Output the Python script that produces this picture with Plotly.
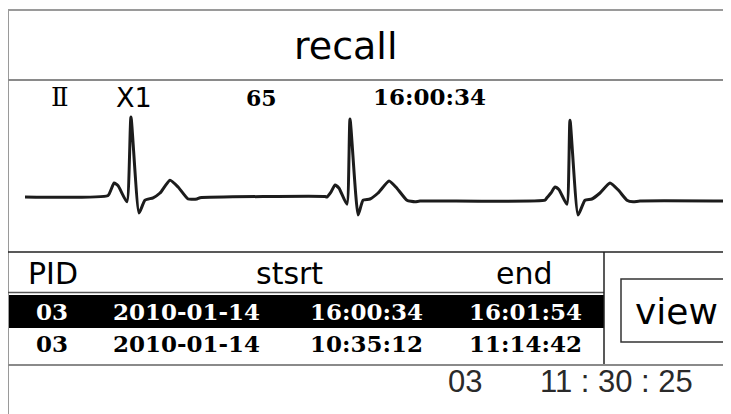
import plotly.graph_objects as go

# ---------------- data ----------------
title_text = "recall"
lead_label = "Ⅱ"
gain_label = "X1"
heart_rate = "65"
strip_time = "16:00:34"

# ECG samples: time (ms) and amplitude (mV)
ecg_t = [0, 349, 361, 374, 391, 428, 445, 479, 504, 538, 567, 609, 643, 685, 722, 735, 1260,
         1268, 1285, 1302, 1319, 1352, 1365, 1399, 1420, 1449, 1483, 1529, 1562, 1604, 1638, 1659, 2184,
         2192, 2209, 2226, 2243, 2276, 2289, 2323, 2352, 2381, 2415, 2457, 2491, 2528, 2554, 2583, 2936]
ecg_mv = [0.0, 0.02, 0.09, 0.175, 0.14, -0.06, 1.0, -0.2, -0.04, -0.01, 0.05, 0.21, 0.125, -0.025, -0.025, -0.01, 0.006,
          0.0, 0.06, 0.15, 0.11, -0.09, 0.975, -0.225, -0.04, -0.025, 0.05, 0.2, 0.11, -0.04, -0.06, -0.05, -0.04,
          -0.01, 0.05, 0.125, 0.09, -0.09, 0.96, -0.225, -0.04, -0.025, 0.05, 0.175, 0.09, -0.04, -0.06, -0.05, -0.05]

header_labels = ["PID", "stsrt", "end"]
pids = ["03", "03"]
dates = ["2010-01-14", "2010-01-14"]
starts = ["16:00:34", "10:35:12"]
ends = ["16:01:54", "11:14:42"]
button_label = "view"
footer_pid = "03"
footer_clock = "11\u00a0:\u00a030\u00a0:\u00a025"

# ---------------- figure ----------------
W, H = 731, 414
OFF = 8  # page body margin
fig = go.Figure()

fig.add_trace(go.Scatter(x=ecg_t, y=ecg_mv, mode="lines", xaxis="x2", yaxis="y2",
                         line=dict(color="#1c1c1c", width=3, shape="spline", smoothing=0.5),
                         hoverinfo="skip", showlegend=False))
fig.add_trace(go.Scatter(x=[100], y=[100], mode="markers", marker=dict(opacity=0),
                         hoverinfo="skip", showlegend=False))

ms_per_px = 4.2
px_per_mv = 80
x0_px, base_px = 25, 197

shapes = []
def line(x0, y0, x1, y1, color, w):
    shapes.append(dict(type="line", xref="x", yref="y", x0=x0, y0=y0, x1=x1, y1=y1,
                       line=dict(color=color, width=w)))

# black selected row
shapes.append(dict(type="rect", xref="x", yref="y", x0=9, y0=295, x1=604, y1=328,
                   fillcolor="black", line=dict(width=0), layer="below"))
# frame
line(8, 10, 731, 10, "#9a9a9a", 2)
line(8, 9, 8, 414, "#9a9a9a", 2)
line(8, 80, 731, 80, "#8a8a8a", 2)
line(8, 252, 731, 252, "#222222", 1.5)
line(8, 292.5, 604, 292.5, "#555555", 1.5)
line(604, 252, 604, 365, "#222222", 1.5)
line(8, 365, 731, 365, "#8a8a8a", 2)
# view button
shapes.append(dict(type="rect", xref="x", yref="y", x0=621, y0=279, x1=730, y1=342,
                   fillcolor="rgba(0,0,0,0)", line=dict(color="#333333", width=1.5)))

ann = []
def txt(x, y, s, size, family, color="black", bold=False):
    ann.append(dict(xref="x", yref="y", x=x, y=y, text=(f"<b>{s}</b>" if bold else s),
                    showarrow=False, xanchor="center", yanchor="middle",
                    font=dict(size=size, family=family, color=color)))

SANS = "DejaVu Sans"
SERIF = "DejaVu Serif"
txt(345, 46, title_text, 38, SANS)
txt(60, 97, lead_label, 26, SERIF)
txt(134, 97, gain_label, 27, SANS)
txt(261, 98, heart_rate, 22, SERIF, bold=True)
txt(429, 96, strip_time, 23, SERIF, bold=True)

for s, x in zip(header_labels, [53, 289, 524]):
    txt(x, 273, s, 30, SANS)

row_y = [311, 343]
for i in range(len(pids)):
    c = "white" if i == 0 else "black"
    txt(52, row_y[i], pids[i], 23, SERIF, c, True)
    txt(186, row_y[i], dates[i], 23, SERIF, c, True)
    txt(366, row_y[i], starts[i], 23, SERIF, c, True)
    txt(525, row_y[i], ends[i], 23, SERIF, c, True)

txt(676, 311, button_label, 36, SANS)
txt(465, 381, footer_pid, 31, "Liberation Sans", "#2a2a2a")
txt(616, 381, footer_clock, 31, "Liberation Sans", "#2a2a2a")

fig.update_layout(
    width=W - OFF, height=H - OFF, margin=dict(l=0, r=0, t=0, b=0),
    paper_bgcolor="white", plot_bgcolor="white", showlegend=False,
    xaxis=dict(range=[OFF, W], visible=False, fixedrange=True),
    yaxis=dict(range=[H, OFF], visible=False, fixedrange=True),
    xaxis2=dict(range=[(OFF - x0_px) * ms_per_px, (W - x0_px) * ms_per_px], overlaying="x",
                anchor="y2", visible=False, fixedrange=True),
    yaxis2=dict(range=[(base_px - H) / px_per_mv, (base_px - OFF) / px_per_mv], overlaying="y",
                anchor="x2", visible=False, fixedrange=True),
    shapes=shapes, annotations=ann,
)

fig.write_html("out.html", config={"displayModeBar": False})
